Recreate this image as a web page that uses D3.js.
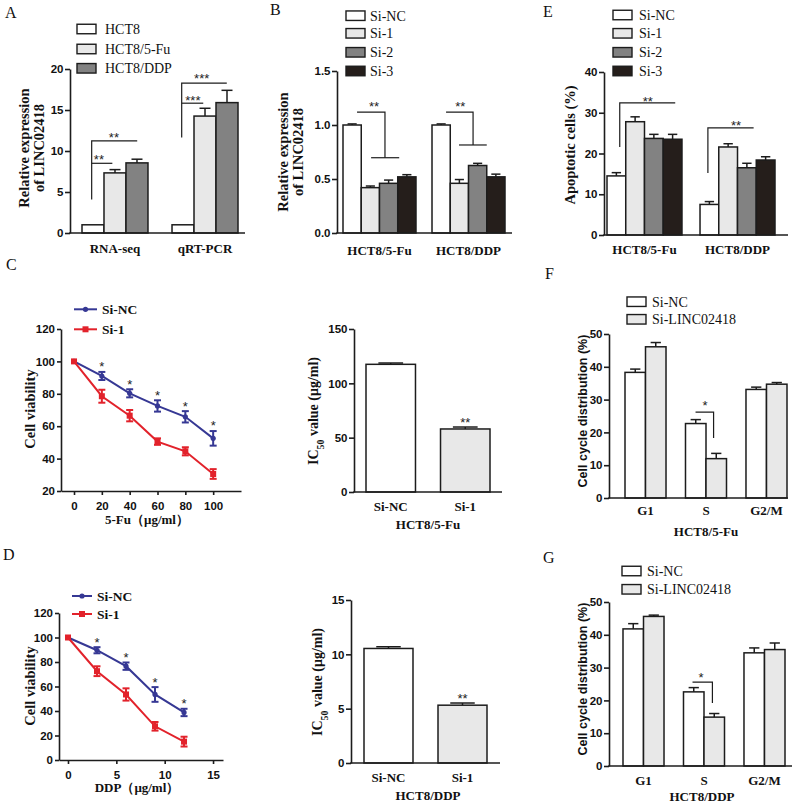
<!DOCTYPE html>
<html><head><meta charset="utf-8">
<script src="https://cdn.jsdelivr.net/npm/d3@7"></script>
<style>
body{margin:0;background:#fff}
svg{display:block}
</style></head><body>
<svg id="c" width="800" height="804"></svg>
<script>
// ---------------- DATA ----------------
// Panel A
const aCategories = ["RNA-seq", "qRT-PCR"];
const aSeries = ["HCT8", "HCT8/5-Fu", "HCT8/DDP"];
const aValues = [[1.0, 7.33, 8.55], [1.0, 14.26, 15.9]];
const aErrors = [[0, 0.4, 0.45], [0, 0.95, 1.5]];
const aTicks = [0, 5, 10, 15, 20];
// Panel B
const bCategories = ["HCT8/5-Fu", "HCT8/DDP"];
const siSeries = ["Si-NC", "Si-1", "Si-2", "Si-3"];
const bValues = [[1.0, 0.42, 0.46, 0.52], [1.0, 0.46, 0.625, 0.52]];
const bErrors = [[0.01, 0.015, 0.03, 0.02], [0.01, 0.035, 0.02, 0.025]];
const bTicks = [0, 0.5, 1.0, 1.5];
// Panel E
const eCategories = ["HCT8/5-Fu", "HCT8/DDP"];
const eValues = [[14.5, 27.8, 23.7, 23.5], [7.5, 21.6, 16.5, 18.4]];
const eErrors = [[0.8, 1.2, 1.0, 1.2], [0.7, 0.8, 1.1, 0.8]];
const eTicks = [0, 10, 20, 30, 40];
// Panel C (line)
const cDoses = [0, 20, 40, 60, 80, 100];
const cSiNC = [100, 91, 80.3, 72.5, 65.8, 52.5];
const cSiNCErr = [0, 2.5, 2.5, 3.5, 3.5, 4.5];
const cSi1 = [100, 78.5, 66.5, 50.5, 44.5, 30.5];
const cSi1Err = [0, 4, 3.5, 2, 2.5, 3];
const cXTicks = [0, 20, 40, 60, 80, 100];
const cYTicks = [20, 40, 60, 80, 100, 120];
// Panel D (line)
const dDoses = [0, 3, 6, 9, 12];
const dSiNC = [100, 89.6, 76.6, 53.5, 38.8];
const dSiNCErr = [0, 2.5, 3, 6, 3];
const dSi1 = [100, 72.5, 53.5, 27.5, 15];
const dSi1Err = [0, 4, 5, 3.5, 4];
const dXTicks = [0, 5, 10, 15];
const dYTicks = [0, 20, 40, 60, 80, 100, 120];
// IC50 panels
const icGroups = ["Si-NC", "Si-1"];
const ic5FuValues = [117.5, 58];
const ic5FuErrors = [1.2, 1.8];
const ic5FuTicks = [0, 50, 100, 150];
const icDDPValues = [10.54, 5.32];
const icDDPErrors = [0.16, 0.2];
const icDDPTicks = [0, 5, 10, 15];
// Panels F, G
const phases = ["G1", "S", "G2/M"];
const cycleSeries = ["Si-NC", "Si-LINC02418"];
const fValues = [[38.3, 46.1], [22.7, 12.0], [33.1, 34.7]];
const fErrors = [[1.0, 1.3], [1.2, 1.6], [0.7, 0.5]];
const gValues = [[41.8, 45.6], [22.6, 14.9], [34.5, 35.5]];
const gErrors = [[1.6, 0.4], [1.3, 1.1], [1.5, 2.0]];
const cycleTicks = [0, 10, 20, 30, 40, 50];

// Significance annotations (category index, path in [series-units, value], label centre)
const aSig = [
  {cat: 0, path: [[0.44, 4.1], [0.44, 11.24], [2.51, 11.24]], label: "**", at: [1.45, 11.97]},
  {cat: 0, path: [[0.44, 8.5], [1.38, 8.5]], label: "**", at: [0.77, 9.27]},
  {cat: 1, path: [[0.44, 11.64], [0.44, 18.28], [2.49, 18.28]], label: "***", at: [1.35, 19.2]},
  {cat: 1, path: [[0.44, 15.83], [1.42, 15.83]], label: "***", at: [0.95, 16.55]}
];
const bSig = [
  {cat: 0, path: [[0.77, 1.12], [2.3, 1.12], [2.3, 0.697]], label: "**", at: [1.7, 1.2]},
  {cat: 0, path: [[1.54, 0.697], [3.08, 0.697]]},
  {cat: 1, path: [[0.77, 1.12], [2.25, 1.12], [2.25, 0.815]], label: "**", at: [1.55, 1.2]},
  {cat: 1, path: [[1.48, 0.815], [3.0, 0.815]]}
];
const eSig = [
  {cat: 0, path: [[0.68, 21.6], [0.68, 32.4], [3.64, 32.4]], label: "**", at: [2.18, 33.5]},
  {cat: 1, path: [[0.42, 15.2], [0.42, 26.3], [2.86, 26.3]], label: "**", at: [1.92, 27.6]}
];
const fSig = [{cat: 1, path: [[0.49, 26.2], [1.37, 26.2], [1.37, 18.3]], label: "*", at: [0.95, 29]}];
const gSig = [{cat: 1, path: [[0.44, 25.6], [1.41, 25.6], [1.41, 19.2]], label: "*", at: [0.85, 28]}];

// ---------------- DRAWING ----------------
const svg = d3.select("#c");
const SERIF = '"Liberation Serif","Times New Roman",serif';
const SANS = '"Liberation Sans",Arial,sans-serif';
const INK = "#1c1c1c";
const BLUE = "#363894";
const RED = "#e2222b";
const fills = {white: "#ffffff", light: "#e8e8e8", mid: "#828282", dark: "#251e1b"};

function panelLetter(t, x, y) {
  svg.append("text").attr("x", x).attr("y", y).text(t)
    .style("font-family", SERIF).style("font-size", "16px").attr("fill", "#111");
}

function yLabel(lines, xs, cy, font, size, bold) {
  lines.forEach((ln, i) => {
    const t = svg.append("text")
      .attr("transform", `translate(${xs[i]},${cy}) rotate(-90)`)
      .attr("text-anchor", "middle")
      .style("font-family", font).style("font-size", size + "px")
      .style("font-weight", bold ? "bold" : "normal").attr("fill", "#111");
    if (Array.isArray(ln)) {
      ln.forEach(p => {
        const s = t.append("tspan").text(p.t);
        if (p.sub) s.attr("baseline-shift", "sub").style("font-size", (size * 0.7) + "px");
      });
    } else t.text(ln);
  });
}

function star(g, x, cy, label) {
  const fs = 13;
  g.append("text").attr("x", x).attr("y", cy + 0.57 * fs).attr("text-anchor", "middle")
    .style("font-family", SANS).style("font-size", fs + "px").attr("fill", "#222").text(label);
}

function styleAxis(sel, fs) {
  sel.select(".domain").attr("stroke", INK).attr("stroke-width", 1.6);
  sel.selectAll(".tick line").attr("stroke", INK).attr("stroke-width", 1.6);
  sel.selectAll(".tick text").style("font-family", SANS).style("font-weight", "bold")
    .style("font-size", fs + "px").attr("fill", "#111");
}

function barPanel(o) {
  const g = svg.append("g");
  const y = d3.scaleLinear().domain([0, o.yMax]).range([o.y0, o.yTop]);
  const x = d3.scaleBand().domain(o.cats).range(o.band).paddingInner(o.pad).paddingOuter(0);
  const ns = o.values[0].length;
  const xs = d3.scaleBand().domain(d3.range(ns)).range([0, x.bandwidth()]);
  const bw = xs.bandwidth();
  o.cats.forEach((c, ci) => {
    o.values[ci].forEach((v, si) => {
      g.append("rect").attr("x", x(c) + xs(si)).attr("y", y(v))
        .attr("width", bw).attr("height", y(0) - y(v))
        .attr("fill", o.color(ci, si)).attr("stroke", INK).attr("stroke-width", 1.5);
    });
  });
  o.cats.forEach((c, ci) => {
    o.values[ci].forEach((v, si) => {
      const e = o.errors[ci][si];
      if (!e) return;
      const cx = x(c) + xs(si) + bw / 2;
      g.append("line").attr("x1", cx).attr("x2", cx).attr("y1", y(v)).attr("y2", y(v + e))
        .attr("stroke", INK).attr("stroke-width", 1.5);
      g.append("line").attr("x1", cx - bw * 0.25).attr("x2", cx + bw * 0.25)
        .attr("y1", y(v + e)).attr("y2", y(v + e)).attr("stroke", INK).attr("stroke-width", 1.5);
    });
  });
  const ya = d3.axisLeft(y).tickValues(o.ticks).tickFormat(o.fmt || d3.format("d"))
    .tickSize(5).tickSizeOuter(0).tickPadding(1.5);
  const ag = g.append("g").attr("transform", `translate(${o.axisX},0)`).call(ya);
  styleAxis(ag, 11.5);
  g.append("line").attr("x1", o.axisX - 0.8).attr("x2", o.axisEnd).attr("y1", y(0)).attr("y2", y(0))
    .attr("stroke", INK).attr("stroke-width", 1.6);
  o.cats.forEach((c) => {
    g.append("text").attr("x", x(c) + x.bandwidth() / 2).attr("y", o.catY)
      .attr("text-anchor", "middle").style("font-family", SERIF).style("font-weight", "bold")
      .style("font-size", "13px").attr("fill", "#111").text(c);
  });
  if (o.title) {
    g.append("text").attr("x", o.title.x).attr("y", o.title.y).attr("text-anchor", "middle")
      .style("font-family", SERIF).style("font-weight", "bold").style("font-size", "13px")
      .attr("fill", "#111").text(o.title.t);
  }
  (o.sig || []).forEach(s => {
    const gx = x(o.cats[s.cat]);
    const line = d3.line().x(p => gx + p[0] * bw).y(p => y(p[1]));
    g.append("path").attr("d", line(s.path)).attr("fill", "none")
      .attr("stroke", INK).attr("stroke-width", 1.2);
    if (s.label) star(g, gx + s.at[0] * bw, y(s.at[1]), s.label);
  });
  (o.topStars || []).forEach(s => {
    const c = o.cats[s.cat];
    star(g, x(c) + xs(0) + bw / 2, y(s.v), s.label);
  });
  if (o.legend) {
    const L = o.legend;
    L.names.forEach((n, i) => {
      const ry = L.ys[i];
      g.append("rect").attr("x", L.x).attr("y", ry - 4.75).attr("width", 19).attr("height", 9.5)
        .attr("fill", o.color(0, i)).attr("stroke", INK).attr("stroke-width", 1.4);
      g.append("text").attr("x", L.tx).attr("y", ry + 4.8).style("font-family", SERIF)
        .style("font-size", "14px").attr("fill", "#111").text(n);
    });
  }
  return {x, y};
}

function marker(g, shape, cx, cy, color) {
  if (shape === "circle") g.append("circle").attr("cx", cx).attr("cy", cy).attr("r", 2.6).attr("fill", color);
  else g.append("rect").attr("x", cx - 3).attr("y", cy - 3).attr("width", 6).attr("height", 6).attr("fill", color);
}

function linePanel(o) {
  const g = svg.append("g");
  const x = d3.scaleLinear().domain(o.xDomain).range(o.xRange);
  const y = d3.scaleLinear().domain(o.yDomain).range(o.yRange);
  const xa = d3.axisBottom(x).tickValues(o.xTicks).tickFormat(d3.format("d"))
    .tickSize(4).tickSizeOuter(0).tickPadding(4);
  const ya = d3.axisLeft(y).tickValues(o.yTicks).tickFormat(d3.format("d"))
    .tickSize(4).tickSizeOuter(0).tickPadding(2);
  const xg = g.append("g").attr("transform", `translate(0,${o.yRange[0]})`).call(xa);
  styleAxis(xg, 11.5);
  xg.selectAll(".tick text").attr("dy", "0.95em");
  const yg = g.append("g").attr("transform", `translate(${o.xRange[0]},0)`).call(ya);
  styleAxis(yg, 11.5);
  g.append("text").attr("x", o.xLabel.x).attr("y", o.xLabel.y).attr("text-anchor", "middle")
    .style("font-family", SERIF).style("font-weight", "bold").style("font-size", "13px")
    .attr("fill", "#111").text(o.xLabel.t);

  const series = [
    {vals: o.nc, errs: o.ncErr, color: BLUE, shape: "circle"},
    {vals: o.s1, errs: o.s1Err, color: RED, shape: "square"}
  ];
  const line = d3.line().x((d, i) => x(o.doses[i])).y(d => y(d));
  series.forEach(s => {
    g.append("path").attr("d", line(s.vals)).attr("fill", "none")
      .attr("stroke", s.color).attr("stroke-width", 2);
    s.vals.forEach((v, i) => {
      const px = x(o.doses[i]), e = s.errs[i];
      if (e > 0) {
        g.append("line").attr("x1", px).attr("x2", px).attr("y1", y(v - e)).attr("y2", y(v + e))
          .attr("stroke", s.color).attr("stroke-width", 2);
        [v - e, v + e].forEach(w => g.append("line").attr("x1", px - 3.5).attr("x2", px + 3.5)
          .attr("y1", y(w)).attr("y2", y(w)).attr("stroke", s.color).attr("stroke-width", 2));
      }
      marker(g, s.shape, px, y(v), s.color);
    });
  });
  o.doses.forEach((d, i) => {
    if (i === 0) return;
    star(g, x(d), y(o.nc[i] + o.ncErr[i]) - 8, "*");
  });
  const L = o.legend;
  [["Si-NC", BLUE, "circle"], ["Si-1", RED, "square"]].forEach((it, i) => {
    const ry = L.ys[i];
    g.append("line").attr("x1", L.x0).attr("x2", L.x1).attr("y1", ry).attr("y2", ry)
      .attr("stroke", it[1]).attr("stroke-width", 2);
    marker(g, it[2], (L.x0 + L.x1) / 2, ry, it[1]);
    g.append("text").attr("x", L.tx).attr("y", ry + 4.6).style("font-family", SERIF)
      .style("font-weight", "bold").style("font-size", "13.5px").attr("fill", "#111").text(it[0]);
  });
}

// ---- Panel A
panelLetter("A", 5, 18);
barPanel({
  cats: aCategories, values: aValues, errors: aErrors, yMax: 20, ticks: aTicks,
  y0: 233, yTop: 69, band: [82, 238], pad: 0.267, axisX: 70, axisEnd: 245, catY: 253,
  color: (ci, si) => [fills.white, fills.light, fills.mid][si], sig: aSig,
  legend: {names: aSeries, x: 77, tx: 105, ys: [29, 49, 68.3]}
});
yLabel(["Relative expression", "of LINC02418"], [29, 44], 148, SERIF, 14.5, true);

// ---- Panel B
panelLetter("B", 270, 15);
barPanel({
  cats: bCategories, values: bValues, errors: bErrors, yMax: 1.5, ticks: bTicks, fmt: d3.format(".1f"),
  y0: 233, yTop: 71, band: [343, 505], pad: 0.18, axisX: 337, axisEnd: 512, catY: 255,
  color: (ci, si) => [fills.white, fills.light, fills.mid, fills.dark][si], sig: bSig,
  legend: {names: siSeries, x: 346, tx: 370, ys: [15.7, 33.3, 52.3, 71]}
});
yLabel(["Relative expression", "of LINC02418"], [288, 303], 152, SERIF, 14.5, true);

// ---- Panel E
panelLetter("E", 543, 17);
barPanel({
  cats: eCategories, values: eValues, errors: eErrors, yMax: 40, ticks: eTicks,
  y0: 235, yTop: 72, band: [607, 775], pad: 0.194, axisX: 604, axisEnd: 788, catY: 254,
  color: (ci, si) => [fills.white, fills.light, fills.mid, fills.dark][si], sig: eSig,
  legend: {names: siSeries, x: 613, tx: 639, ys: [15, 33.3, 52.3, 71]}
});
yLabel(["Apoptotic cells (%)"], [575], 145, SERIF, 14.5, true);

// ---- Panel C (line)
panelLetter("C", 6, 270);
linePanel({
  doses: cDoses, nc: cSiNC, ncErr: cSiNCErr, s1: cSi1, s1Err: cSi1Err,
  xDomain: [-9.35, 120], xRange: [61, 241], yDomain: [20, 120], yRange: [491, 329],
  xTicks: cXTicks, yTicks: cYTicks,
  xLabel: {t: "5-Fu（μg/ml）", x: 147, y: 524},
  legend: {x0: 74, x1: 97, tx: 102, ys: [309.3, 329.3]}
});
yLabel(["Cell viability"], [35], 409, SERIF, 14.5, true);

// ---- IC50 5-Fu
barPanel({
  cats: icGroups, values: ic5FuValues.map(v => [v]), errors: ic5FuErrors.map(v => [v]),
  yMax: 150, ticks: ic5FuTicks, y0: 492, yTop: 329, band: [366, 490], pad: 0.336,
  axisX: 354, axisEnd: 502, catY: 511,
  color: (ci) => [fills.white, fills.light][ci],
  title: {t: "HCT8/5-Fu", x: 428, y: 529},
  topStars: [{cat: 1, v: 66.8, label: "**"}]
});
yLabel([[{t: "IC"}, {t: "50", sub: true}, {t: " value (μg/ml)"}]], [318], 411, SERIF, 14, true);

// ---- Panel F
panelLetter("F", 545, 279);
barPanel({
  cats: phases, values: fValues, errors: fErrors, yMax: 50, ticks: cycleTicks,
  y0: 498, yTop: 334, band: [625, 787], pad: 0.322, axisX: 609, axisEnd: 788, catY: 515,
  color: (ci, si) => [fills.white, fills.light][si], sig: fSig,
  title: {t: "HCT8/5-Fu", x: 706, y: 536},
  legend: {names: cycleSeries, x: 627, tx: 652, ys: [301.7, 319.3]}
});
yLabel(["Cell cycle distribution (%)"], [587], 411, SANS, 12.5, true);

// ---- Panel D (line)
panelLetter("D", 3, 560);
linePanel({
  doses: dDoses, nc: dSiNC, ncErr: dSiNCErr, s1: dSi1, s1Err: dSi1Err,
  xDomain: [-0.93, 16.03], xRange: [59, 223], yDomain: [0, 120], yRange: [760, 613],
  xTicks: dXTicks, yTicks: dYTicks,
  xLabel: {t: "DDP（μg/ml）", x: 137, y: 792},
  legend: {x0: 72, x1: 92, tx: 97, ys: [596, 614]}
});
yLabel(["Cell viability"], [35], 686, SERIF, 14.5, true);

// ---- IC50 DDP
barPanel({
  cats: icGroups, values: icDDPValues.map(v => [v]), errors: icDDPErrors.map(v => [v]),
  yMax: 15, ticks: icDDPTicks, y0: 763, yTop: 600, band: [364, 487], pad: 0.338,
  axisX: 351, axisEnd: 500, catY: 782,
  color: (ci) => [fills.white, fills.light][ci],
  title: {t: "HCT8/DDP", x: 428, y: 800},
  topStars: [{cat: 1, v: 6.2, label: "**"}]
});
yLabel([[{t: "IC"}, {t: "50", sub: true}, {t: " value (μg/ml)"}]], [322], 682, SERIF, 14, true);

// ---- Panel G
panelLetter("G", 543, 563);
barPanel({
  cats: phases, values: gValues, errors: gErrors, yMax: 50, ticks: cycleTicks,
  y0: 766, yTop: 602, band: [623, 785], pad: 0.322, axisX: 609, axisEnd: 792, catY: 785,
  color: (ci, si) => [fills.white, fills.light][si], sig: gSig,
  title: {t: "HCT8/DDP", x: 702, y: 801},
  legend: {names: cycleSeries, x: 622, tx: 647, ys: [571, 589.3]}
});
yLabel(["Cell cycle distribution (%)"], [587], 679, SANS, 12.5, true);
</script>
</body></html>
